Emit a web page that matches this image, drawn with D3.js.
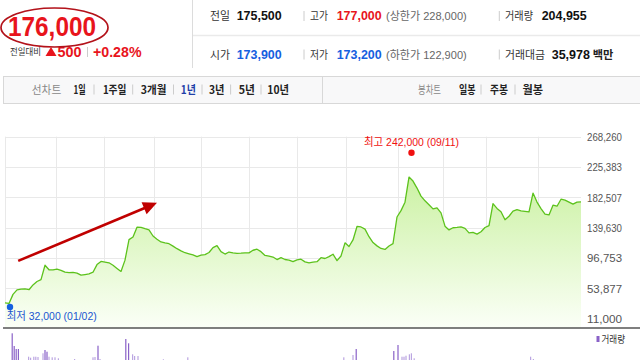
<!DOCTYPE html>
<html><head><meta charset="utf-8">
<script src="https://cdn.jsdelivr.net/npm/d3@7"></script>
<style>body{margin:0;background:#fff;}svg{display:block;}</style>
</head><body>
<script>
// ---------- data ----------
const closes = [33000,32000,44900,51300,52300,52600,51500,58300,63100,65800,
86200,79800,79500,80700,79000,76300,75600,76100,74900,72200,
73000,73900,76300,87100,91600,90600,89600,86100,81700,77400,
93400,122400,126100,140100,139800,137900,136200,127600,123000,119100,
117700,116700,113300,109600,106600,103900,102400,100800,98300,100400,
101200,104200,111200,113900,105400,102000,104900,103800,103100,103200,
103700,103700,107400,108900,105400,100000,99100,97800,94200,97000,
94300,93400,91200,93700,94700,90900,89600,90500,91200,96800,
95700,98400,101800,92700,99300,117900,112700,122000,141100,140400,
137400,126600,118300,113600,109900,108600,113500,116700,154500,163500,
175500,211100,205400,195500,184100,177400,171900,166000,167400,160300,
141500,136200,139300,139700,140400,138300,132000,132600,130300,133700,
139600,142300,173500,166700,162000,150600,155600,162800,165000,163300,
162500,161800,188400,175600,166500,158700,157400,171200,169800,179700,
178300,175500,172800,175600,176000];
const yTicks = [11000, 53877, 96753, 139630, 182507, 225383, 268260];
const monthTicks = [12.75, 24.75, 37.25, 49, 61, 73, 85.25, 98.25, 109.5, 120.25, 133.25];
const volPos = [1.8,2.3,2.8,3.35,5.9,6.4,7.2,7.7,8.25,9.5,10,10.5,11,11.8,12.5,13.35,17.4,22,22.5,23.25,23.75,30.2,30.9,31.9,32.4,33.25,39.6,45.7,84.7,87,87.8,97.2,98.25,99.25,99.75,100.25,101.1,101.6,102.3,131.4,132.1];
const volumes = [2870,1600,1300,1300,530,430,530,530,500,870,1200,1030,530,470,470,370,300,470,500,1630,300,2300,1870,770,600,600,270,470,470,700,1300,1100,1700,530,530,630,770,870,370,530,300];
const highInfo = {value: 242000, label: "최고 242,000 (09/11)"};
const lowInfo = {value: 32000, label: "최저 32,000 (01/02)"};
const arrowFrom = {i: 3.3, v: 92300};
const arrowTo = {i: 38, v: 174600};

const price = "176,000";
const change = "500";
const changePct = "+0.28%";
const row1Labels = ["전일", "고가", "거래량"];
const row1Values = ["175,500", "177,000", "204,955"];
const row2Labels = ["시가", "저가", "거래대금"];
const row2Values = ["173,900", "173,200", "35,978"];
const limitTexts = ["(상한가 228,000)", "(하한가 122,900)"];
const periodItems = ["1일", "1주일", "3개월", "1년", "3년", "5년", "10년"];
const candleItems = ["일봉", "주봉", "월봉"];

// ---------- drawing ----------
const W = 640, H = 360;
const svg = d3.select("body").append("svg").attr("width", W).attr("height", H);
const FONT = "'Liberation Sans', Arial, 'Noto Sans CJK KR', sans-serif";
const KFONT = "'Noto Sans CJK KR', 'Liberation Sans', sans-serif";
const RED = "#e8141c", BLUE = "#1560e0";

// header left
svg.append("text").attr("x", 8).attr("y", 36).text(price)
  .attr("font-family", FONT).attr("font-weight", "bold").attr("font-size", 27)
  .attr("fill", RED).attr("textLength", 88).attr("lengthAdjust", "spacingAndGlyphs");
svg.append("text").attr("x", 10).attr("y", 55).text("전일대비")
  .attr("font-family", KFONT).attr("font-size", 9).attr("fill", "#333")
  .attr("textLength", 31).attr("lengthAdjust", "spacingAndGlyphs");
svg.append("path").attr("d", d3.line()([[45.5,56],[51,47],[56.5,56]]) + "Z").attr("fill", RED);
svg.append("text").attr("x", 57.5).attr("y", 56.5).text(change)
  .attr("font-family", FONT).attr("font-weight", "bold").attr("font-size", 14).attr("fill", RED)
  .attr("textLength", 24).attr("lengthAdjust", "spacingAndGlyphs");
svg.append("line").attr("x1", 87.5).attr("x2", 87.5).attr("y1", 47).attr("y2", 57).attr("stroke", "#ccc");
svg.append("text").attr("x", 93).attr("y", 56.5).text(changePct)
  .attr("font-family", FONT).attr("font-weight", "bold").attr("font-size", 14).attr("fill", RED)
  .attr("textLength", 48.5).attr("lengthAdjust", "spacingAndGlyphs");
svg.append("ellipse").attr("cx", 54.5).attr("cy", 27.5).attr("rx", 53.5).attr("ry", 19.5)
  .attr("fill", "none").attr("stroke", "#b3121a").attr("stroke-width", 1.7);

// header right
svg.append("line").attr("x1", 192.5).attr("x2", 192.5).attr("y1", 0).attr("y2", 68).attr("stroke", "#dcdcdc");
svg.append("line").attr("x1", 193).attr("x2", 640).attr("y1", 35.5).attr("y2", 35.5).attr("stroke", "#eaeaea").attr("stroke-width", 1.5);
const labX = [210, 310, 505], valX = [236.7, 336.7, 541.7];
const rowsY = [20, 58.5];
[[row1Labels, row1Values], [row2Labels, row2Values]].forEach(([labs, vals], r) => {
  const yy = rowsY[r];
  labs.forEach((t, i) => {
    svg.append("text").attr("x", labX[i]).attr("y", yy).text(t)
      .attr("font-family", KFONT).attr("font-size", 11).attr("fill", "#333")
      .attr("textLength", [20, 18, t.length === 4 ? 40 : 28][i]).attr("lengthAdjust", "spacingAndGlyphs");
  });
  vals.forEach((t, i) => {
    const col = i === 1 ? (r === 0 ? RED : BLUE) : (i === 0 && r === 1 ? BLUE : "#111");
    const xx = (r === 1 && i === 2) ? 551.7 : valX[i];
    svg.append("text").attr("x", xx).attr("y", yy).text(t)
      .attr("font-family", FONT).attr("font-weight", "bold").attr("font-size", 12).attr("fill", col)
      .attr("textLength", t.length === 6 ? 38.3 : 45).attr("lengthAdjust", "spacingAndGlyphs");
  });
  svg.append("text").attr("x", 386).attr("y", yy).text(limitTexts[r])
    .attr("font-family", FONT).attr("font-size", 11).attr("fill", "#666")
    .attr("textLength", 80.7).attr("lengthAdjust", "spacingAndGlyphs");
  [304, 499.3].forEach(sx => svg.append("line").attr("x1", sx).attr("x2", sx)
    .attr("y1", yy - 9).attr("y2", yy + 1).attr("stroke", "#ccc"));
});
svg.append("text").attr("x", 592.7).attr("y", rowsY[1]).text("백만")
  .attr("font-family", KFONT).attr("font-weight", "bold").attr("font-size", 11).attr("fill", "#222")
  .attr("textLength", 20.6).attr("lengthAdjust", "spacingAndGlyphs");

// menu bar
svg.append("rect").attr("x", 3.5).attr("y", 76.5).attr("width", 640).attr("height", 27)
  .attr("fill", "#f8f8f9").attr("stroke", "#d8d8d8");
svg.append("line").attr("x1", 322.5).attr("x2", 322.5).attr("y1", 77).attr("y2", 103).attr("stroke", "#d8d8d8");
const menuY = 93.5;
svg.append("text").attr("x", 31.8).attr("y", menuY).text("선차트")
  .attr("font-family", KFONT).attr("font-size", 11).attr("fill", "#888")
  .attr("textLength", 29.4).attr("lengthAdjust", "spacingAndGlyphs");
const periodX = [73.5, 102.9, 140.8, 180.8, 209, 238.8, 267.3];
const periodW = [12.2, 23.6, 25.7, 15.1, 15.5, 16.2, 21.7];
periodItems.forEach((t, i) => {
  svg.append("text").attr("x", periodX[i]).attr("y", menuY).text(t)
    .attr("font-family", KFONT).attr("font-weight", "bold").attr("font-size", 11)
    .attr("fill", t === "1년" ? "#1f3fa8" : "#222")
    .attr("textLength", periodW[i]).attr("lengthAdjust", "spacingAndGlyphs");
  if (i < periodItems.length - 1) {
    const sx = [94, 132.7, 173.5, 202, 230.6, 261][i];
    svg.append("line").attr("x1", sx).attr("x2", sx).attr("y1", menuY - 9).attr("y2", menuY + 1).attr("stroke", "#ccc");
  }
});
svg.append("text").attr("x", 418).attr("y", menuY).text("봉차트")
  .attr("font-family", KFONT).attr("font-size", 11).attr("fill", "#888")
  .attr("textLength", 23).attr("lengthAdjust", "spacingAndGlyphs");
const candleX = [459, 490, 522.4];
candleItems.forEach((t, i) => {
  svg.append("text").attr("x", candleX[i]).attr("y", menuY).text(t)
    .attr("font-family", KFONT).attr("font-weight", "bold").attr("font-size", 11).attr("fill", "#222")
    .attr("textLength", [16.5, 18, 20.6][i]).attr("lengthAdjust", "spacingAndGlyphs");
  if (i < 2) {
    const sx = [481, 515][i];
    svg.append("line").attr("x1", sx).attr("x2", sx).attr("y1", menuY - 9).attr("y2", menuY + 1).attr("stroke", "#ccc");
  }
});

// chart
const x = d3.scaleLinear().domain([0, closes.length - 1]).range([5, 581]);
const y = d3.scaleLinear().domain([11000, 268260]).range([318.3, 136.7]);
const plotBottom = 328;

const g = svg.append("g");
// gridlines
g.selectAll(".hg").data(yTicks).join("line")
  .attr("x1", x(0)).attr("x2", x(closes.length - 1))
  .attr("y1", d => Math.round(y(d)) + 0.5).attr("y2", d => Math.round(y(d)) + 0.5)
  .attr("stroke", "#e9e9e9");
g.selectAll(".vg").data([0].concat(monthTicks)).join("line")
  .attr("x1", d => Math.round(x(d)) + 0.5).attr("x2", d => Math.round(x(d)) + 0.5)
  .attr("y1", y(268260)).attr("y2", plotBottom)
  .attr("stroke", "#e9e9e9");
// y labels
g.selectAll(".yl").data(yTicks).join("text")
  .attr("x", 587).attr("y", d => y(d) + 4.5)
  .text(d => d3.format(",")(d))
  .attr("font-family", FONT).attr("font-size", 10.5).attr("fill", "#555")
  .attr("textLength", 35).attr("lengthAdjust", "spacingAndGlyphs");

// area gradient
const defs = svg.append("defs");
const grad = defs.append("linearGradient").attr("id", "ag").attr("gradientUnits", "userSpaceOnUse")
  .attr("x1", 0).attr("x2", 0).attr("y1", 160).attr("y2", plotBottom);
grad.append("stop").attr("offset", 0).attr("stop-color", "#c6f09a");
grad.append("stop").attr("offset", 1).attr("stop-color", "#fbfff7");

g.append("path").datum(closes)
  .attr("d", d3.area().x((d, i) => x(i)).y0(plotBottom).y1(d => y(d)))
  .attr("fill", "url(#ag)");
g.append("path").datum(closes)
  .attr("d", d3.line().x((d, i) => x(i)).y(d => y(d)))
  .attr("fill", "none").attr("stroke", "#5cc21c").attr("stroke-width", 1.3).attr("stroke-linejoin", "round");

// high / low markers
const hiIdx = d3.maxIndex(closes), loIdx = d3.minIndex(closes);
g.append("circle").attr("cx", x(hiIdx) + 2.5).attr("cy", y(highInfo.value) - 2.5).attr("r", 3.2).attr("fill", "#f01010");
g.append("text").attr("x", x(hiIdx) - 45).attr("y", y(highInfo.value) - 9).text(highInfo.label)
  .attr("font-family", FONT).attr("font-size", 11).attr("fill", "#f01010")
  .attr("textLength", 95).attr("lengthAdjust", "spacingAndGlyphs");
g.append("circle").attr("cx", x(loIdx) + 1).attr("cy", y(lowInfo.value) + 3.5).attr("r", 3.2).attr("fill", "#1560e0");
g.append("text").attr("x", 6.7).attr("y", y(lowInfo.value) + 17).text(lowInfo.label)
  .attr("font-family", FONT).attr("font-size", 11).attr("fill", "#1a55d0")
  .attr("textLength", 90).attr("lengthAdjust", "spacingAndGlyphs");

// annotation arrow
const ax1 = x(arrowFrom.i), ay1 = y(arrowFrom.v), ax2 = x(arrowTo.i), ay2 = y(arrowTo.v);
const ang = Math.atan2(ay2 - ay1, ax2 - ax1);
const hl = 14, hw = 6.5;
const bx = ax2 - hl * Math.cos(ang), by = ay2 - hl * Math.sin(ang);
g.append("line").attr("x1", ax1).attr("y1", ay1).attr("x2", bx + 2 * Math.cos(ang)).attr("y2", by + 2 * Math.sin(ang))
  .attr("stroke", "#c00000").attr("stroke-width", 2.6);
g.append("path").attr("d", d3.line()([[ax2, ay2],
  [bx - hw * Math.sin(ang), by + hw * Math.cos(ang)],
  [bx + hw * Math.sin(ang), by - hw * Math.cos(ang)]]) + "Z").attr("fill", "#c00000");

// axis line
svg.append("line").attr("x1", 3).attr("x2", 640).attr("y1", plotBottom).attr("y2", plotBottom)
  .attr("stroke", "#555").attr("stroke-width", 1.5);

// volume
const yv = d3.scaleLinear().domain([0, 3100]).range([362, 331]);
svg.selectAll(".vb").data(volumes).join("rect")
  .attr("x", (d, i) => x(volPos[i]) - 0.6).attr("width", 1.2)
  .attr("y", d => yv(d)).attr("height", d => yv(0) - yv(d))
  .attr("fill", d => d >= 1000 ? "#8a62c8" : "#bba6e2");
svg.append("rect").attr("x", 596.5).attr("y", 336).attr("width", 3).attr("height", 6).attr("fill", "#8a62c8");
svg.append("text").attr("x", 601.5).attr("y", 342.5).text("거래량")
  .attr("font-family", KFONT).attr("font-size", 10).attr("fill", "#333")
  .attr("textLength", 23.5).attr("lengthAdjust", "spacingAndGlyphs");
</script>
</body></html>
